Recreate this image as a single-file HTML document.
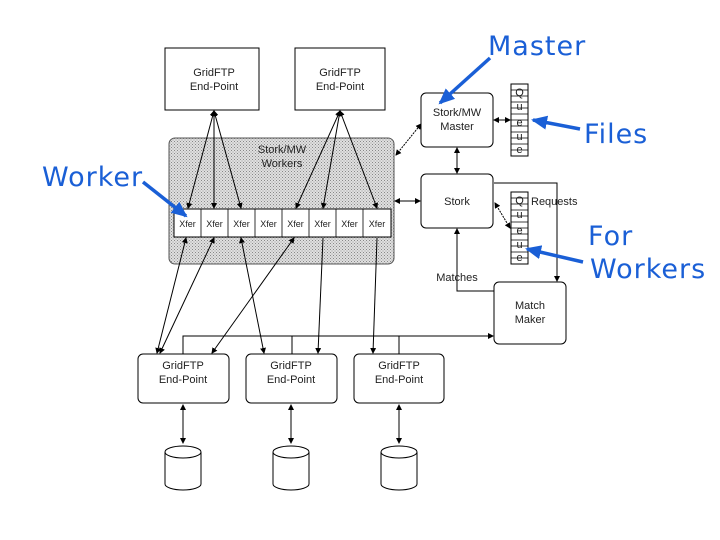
<!DOCTYPE html>
<html><head><meta charset="utf-8"><style>
html,body{margin:0;padding:0;background:#fff;}
svg{display:block;font-family:"Liberation Sans",Arial,sans-serif;}
.b{font-family:"Comic Sans MS","DejaVu Sans",sans-serif;fill:#1a5fd6;font-size:27px;letter-spacing:1px;}
</style></head><body>
<svg width="720" height="540" viewBox="0 0 720 540" xmlns="http://www.w3.org/2000/svg">
<defs>
<pattern id="h" width="3" height="3" patternUnits="userSpaceOnUse">
<rect width="3" height="3" fill="#e0e0e0"/><rect width="1" height="1" fill="#888"/><rect x="1.5" y="1.5" width="1" height="1" fill="#999"/>
</pattern>
<marker id="a" markerWidth="6" markerHeight="6" refX="5" refY="3" orient="auto-start-reverse" markerUnits="userSpaceOnUse"><path d="M0,0L6,3L0,6z" fill="#000"/></marker>
<marker id="ba" markerWidth="16" markerHeight="14" refX="14" refY="7" orient="auto" markerUnits="userSpaceOnUse"><path d="M0,0L16,7L0,14z" fill="#1a5fd6"/></marker>
</defs>
<g stroke="#000" stroke-width="1" fill="#fff">
<rect x="165" y="48" width="94" height="62"/>
<rect x="295" y="48" width="90" height="62"/>
<rect x="169" y="138" width="225" height="126" rx="6" fill="url(#h)" stroke="#555"/>
<rect x="174" y="209" width="217" height="28"/>
<rect x="421" y="93" width="72" height="54" rx="5"/>
<rect x="421" y="174" width="72" height="54" rx="5"/>
<rect x="494" y="282" width="72" height="62" rx="5"/>
<rect x="511" y="84" width="17" height="72"/>
<rect x="511" y="192" width="17" height="72"/>
<rect x="138" y="354" width="91" height="49" rx="5"/>
<rect x="246" y="354" width="91" height="49" rx="5"/>
<rect x="354" y="354" width="90" height="49" rx="5"/>
</g>
<g stroke="#000" stroke-width="0.8">
<line x1="201" y1="209" x2="201" y2="237"/><line x1="228" y1="209" x2="228" y2="237"/><line x1="255" y1="209" x2="255" y2="237"/><line x1="282" y1="209" x2="282" y2="237"/><line x1="309" y1="209" x2="309" y2="237"/><line x1="336" y1="209" x2="336" y2="237"/><line x1="363" y1="209" x2="363" y2="237"/>
<path d="M511 90h17M511 96h17M511 102h17M511 108h17M511 114h17M511 120h17M511 126h17M511 132h17M511 138h17M511 144h17M511 150h17M511 198h17M511 204h17M511 210h17M511 216h17M511 222h17M511 228h17M511 234h17M511 240h17M511 246h17M511 252h17M511 258h17" fill="none"/>
</g>
<g stroke="#000" stroke-width="1" fill="none" marker-start="url(#a)" marker-end="url(#a)">
<line x1="214" y1="111" x2="188" y2="208"/><line x1="214" y1="111" x2="214" y2="208"/><line x1="214" y1="111" x2="241" y2="208"/>
<line x1="340" y1="111" x2="296" y2="208"/><line x1="340" y1="111" x2="323" y2="208"/><line x1="340" y1="111" x2="377" y2="208"/>
<line x1="186" y1="238" x2="157" y2="353"/><line x1="214" y1="238" x2="160" y2="353"/><line x1="241" y1="238" x2="264" y2="353"/><line x1="294" y1="238" x2="212" y2="353"/>
<line x1="396" y1="155" x2="421" y2="124" stroke-dasharray="2,1"/>
<line x1="395" y1="201" x2="420" y2="201"/>
<line x1="457" y1="148" x2="457" y2="173"/>
<line x1="494" y1="120" x2="510" y2="120"/>
<line x1="495" y1="203" x2="510" y2="228" stroke-dasharray="2,1"/>
<line x1="183" y1="405" x2="183" y2="443"/><line x1="291" y1="405" x2="291" y2="443"/><line x1="399" y1="405" x2="399" y2="443"/>
</g>
<g stroke="#000" stroke-width="1" fill="none" marker-end="url(#a)">
<line x1="323" y1="238" x2="318" y2="353"/>
<line x1="377" y1="238" x2="373" y2="353"/>
<polyline points="494,183 557,183 557,281"/>
<polyline points="494,291 457,291 457,229"/>
<polyline points="183,354 183,336 493,336"/>
</g>
<g stroke="#000" fill="none"><line x1="292" y1="336" x2="292" y2="354"/><line x1="399" y1="336" x2="399" y2="354"/></g>
<g stroke="#000" fill="#fff">
<path d="M165 452 a18 6 0 0 1 36 0 v32 a18 6 0 0 1 -36 0z"/><path d="M165 452 a18 6 0 0 0 36 0" fill="none"/>
<path d="M273 452 a18 6 0 0 1 36 0 v32 a18 6 0 0 1 -36 0z"/><path d="M273 452 a18 6 0 0 0 36 0" fill="none"/>
<path d="M381 452 a18 6 0 0 1 36 0 v32 a18 6 0 0 1 -36 0z"/><path d="M381 452 a18 6 0 0 0 36 0" fill="none"/>
</g>
<g font-size="11" fill="#222" text-anchor="middle">
<text x="214" y="76">GridFTP</text><text x="214" y="90">End-Point</text>
<text x="340" y="76">GridFTP</text><text x="340" y="90">End-Point</text>
<text x="282" y="153">Stork/MW</text><text x="282" y="167">Workers</text>
<text x="457" y="116">Stork/MW</text><text x="457" y="130">Master</text>
<text x="457" y="205">Stork</text>
<text x="530" y="309">Match</text><text x="530" y="323">Maker</text>
<text x="457" y="281">Matches</text>
<text x="183" y="369">GridFTP</text><text x="183" y="383">End-Point</text>
<text x="291" y="369">GridFTP</text><text x="291" y="383">End-Point</text>
<text x="399" y="369">GridFTP</text><text x="399" y="383">End-Point</text>
</g>
<text x="531" y="205" font-size="11" fill="#222">Requests</text>
<g font-size="9" fill="#222" text-anchor="middle">
<text x="187.5" y="227">Xfer</text><text x="214.5" y="227">Xfer</text><text x="241.5" y="227">Xfer</text><text x="268.5" y="227">Xfer</text><text x="295.5" y="227">Xfer</text><text x="322.5" y="227">Xfer</text><text x="349.5" y="227">Xfer</text><text x="377" y="227">Xfer</text>
</g>
<g font-size="11" fill="#222" text-anchor="middle">
<text x="519.5" y="96">Q</text><text x="519.5" y="110">u</text><text x="519.5" y="126">e</text><text x="519.5" y="140">u</text><text x="519.5" y="153">e</text>
<text x="519.5" y="204">Q</text><text x="519.5" y="218">u</text><text x="519.5" y="234">e</text><text x="519.5" y="248">u</text><text x="519.5" y="261">e</text>
</g>
<g stroke="#1a5fd6" stroke-width="3.5" fill="none" marker-end="url(#ba)">
<line x1="490" y1="58" x2="440" y2="103"/>
<line x1="580" y1="129" x2="533" y2="120"/>
<line x1="143" y1="182" x2="186" y2="216"/>
<line x1="583" y1="262" x2="527" y2="249"/>
</g>
<text class="b" x="488" y="55">Master</text>
<text class="b" x="584" y="143">Files</text>
<text class="b" x="42" y="186">Worker</text>
<text class="b" x="588" y="245">For</text>
<text class="b" x="590" y="278">Workers</text>
</svg>
</body></html>
